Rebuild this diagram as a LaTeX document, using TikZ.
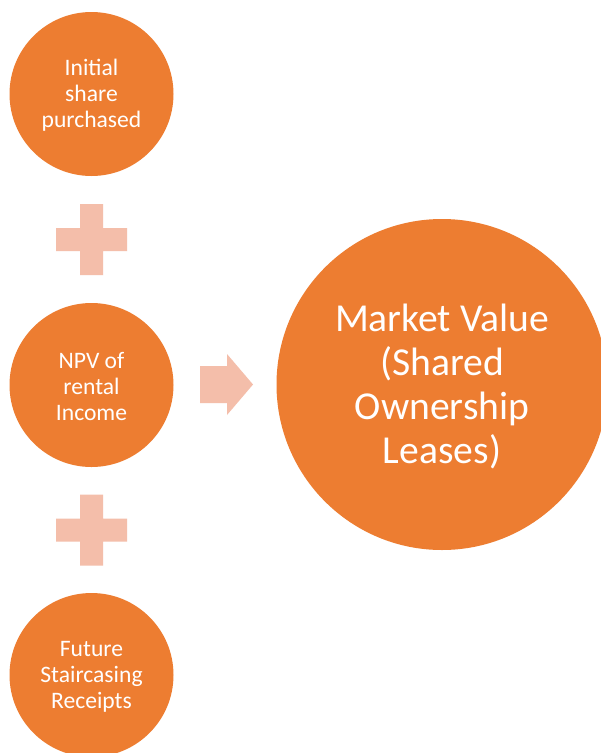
\documentclass[tikz,border=0pt]{standalone}
\usepackage{fontspec}
\setmainfont{Carlito}
\definecolor{acc}{HTML}{ED7D31}
\definecolor{lite}{HTML}{F4BEAA}
\begin{document}
\begin{tikzpicture}[x=1pt,y=-1pt,
  small/.style={circle,fill=acc,minimum size=164pt,inner sep=0pt,text=white,align=center,
    font=\fontsize{23.6}{26}\selectfont},
  big/.style={circle,fill=acc,minimum size=331pt,inner sep=0pt,text=white,align=center,
    font=\fontsize{39.6}{44}\selectfont},
  plusfill/.style={fill=lite}]
\useasboundingbox (0,0) rectangle (601,753);
\clip (0,0) rectangle (601,753);
\fill[white] (0,0) rectangle (601,753);
\node[small] (a) at (91.5,94) {};
\node[small] (b) at (91.5,385) {};
\node[small] (c) at (91.5,675) {};
\node[big] (m) at (442,384.5) {};
\node[small,fill=none,minimum size=0pt] (ta) at (91.5,95.5) {Initial\\share\\purchased};
\node[small,fill=none,minimum size=0pt] (tb) at (91.5,386.5) {NPV of\\rental\\Income};
\node[small,fill=none,minimum size=0pt] (tc) at (91.5,676.5) {Future\\Staircasing\\Receipts};
\node[big,fill=none,minimum size=0pt] (tm) at (442,386) {Market Value\\(Shared\\Ownership\\Leases)};
% plus signs
\foreach \yy in {239.5,530} {
  \fill[plusfill] (80,\yy-35.5) -- (103,\yy-35.5) -- (103,\yy-11.5) -- (127,\yy-11.5)
    -- (127,\yy+11.5) -- (103,\yy+11.5) -- (103,\yy+35.5) -- (80,\yy+35.5)
    -- (80,\yy+11.5) -- (56,\yy+11.5) -- (56,\yy-11.5) -- (80,\yy-11.5) -- cycle;
}
% block arrow
\fill[plusfill] (200,366) -- (227,366) -- (227,354) -- (253,384.5) -- (227,415)
  -- (227,403) -- (200,403) -- cycle;
\end{tikzpicture}
\end{document}
